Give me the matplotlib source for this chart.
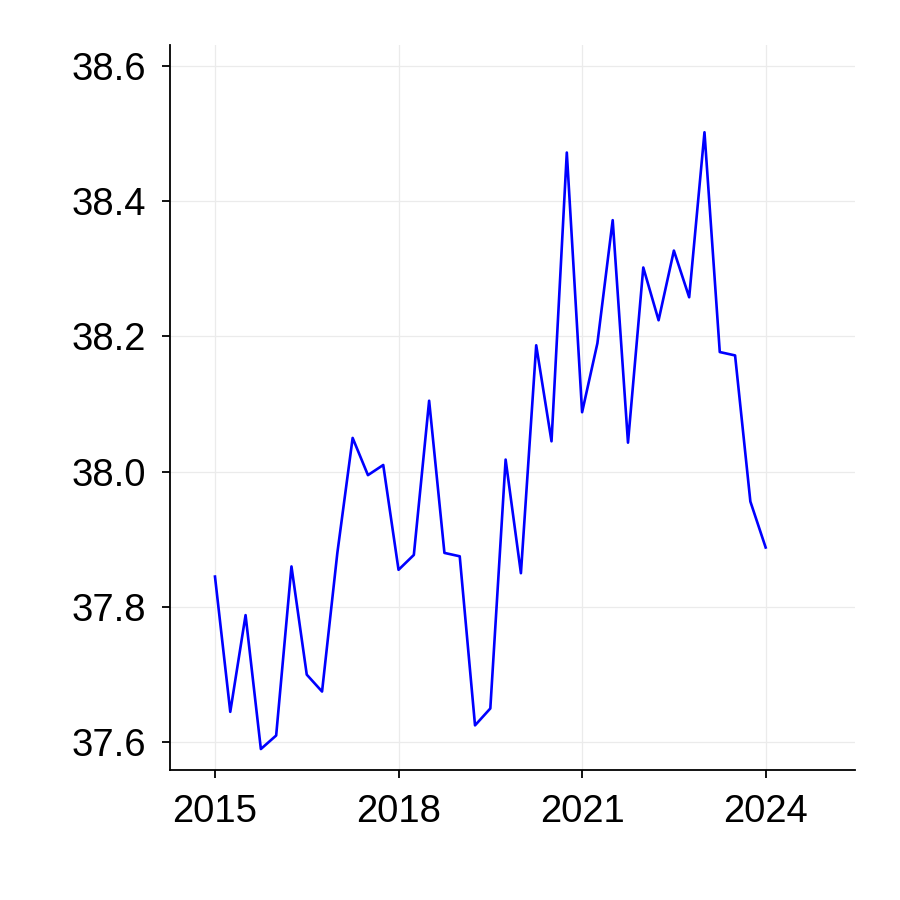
import matplotlib
matplotlib.use("Agg")
import matplotlib.pyplot as plt
import numpy as np

years = [2015 + 0.25 * i for i in range(37)]
values = [37.845, 37.645, 37.788, 37.590, 37.610, 37.860, 37.700, 37.675,
          37.880, 38.050, 37.995, 38.010, 37.855, 37.877, 38.105, 37.880,
          37.875, 37.625, 37.650, 38.018, 37.850, 38.187, 38.045, 38.472,
          38.088, 38.190, 38.372, 38.043, 38.302, 38.224, 38.327, 38.258,
          38.502, 38.177, 38.172, 37.956, 37.888]
xticks = [2015, 2018, 2021, 2024]
yticks = [37.6, 37.8, 38.0, 38.2, 38.4, 38.6]
ytick_labels = ["37.6", "37.8", "38.0", "38.2", "38.4", "38.6"]

plt.rcParams['font.family'] = ['Liberation Sans', 'DejaVu Sans']

fig = plt.figure(figsize=(9, 9), dpi=100)
ax = fig.add_axes([170/900, 1-770/900, (855-170)/900, (770-45)/900])
ax.plot(years, values, color='#0000ff', linewidth=1.9)

ax.set_xlim(2014.265, 2025.46)
ax.set_ylim(37.559, 38.631)
ax.set_xticks(xticks)
ax.set_xticklabels([str(x) for x in xticks])
ax.set_yticks(yticks)
ax.set_yticklabels(ytick_labels)
ax.grid(True, color='#ebebeb', linewidth=0.9)
ax.set_axisbelow(True)
for s in ['top', 'right']:
    ax.spines[s].set_visible(False)
for s in ['left', 'bottom']:
    ax.spines[s].set_linewidth(1.3)
    ax.spines[s].set_color('black')
ax.tick_params(axis='both', labelsize=27.5, length=6, width=1.3, direction='out', pad=11)

fig.savefig('out.png', dpi=100)
